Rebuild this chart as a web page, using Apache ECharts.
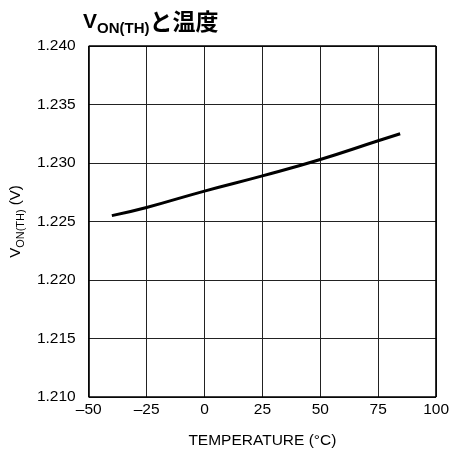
<!DOCTYPE html>
<html><head><meta charset="utf-8">
<script src="https://cdn.jsdelivr.net/npm/echarts@6/dist/echarts.min.js"></script>
<style>html,body{margin:0;padding:0;background:#fff}#c{width:452px;height:456px}</style>
</head><body><div id="c"></div>
<script>
var temps = [-40, -25, 0, 25, 50, 75, 84.5];
var vonth = [1.2255, 1.2262, 1.2276, 1.2289, 1.2303, 1.2319, 1.2325];
var xTicks = [-50, -25, 0, 25, 50, 75, 100];
var yTicks = [1.210, 1.215, 1.220, 1.225, 1.230, 1.235, 1.240];
var F = '"Liberation Sans", Arial, sans-serif';
var chart = echarts.init(document.getElementById('c'));
chart.setOption({
  animation: false,
  title: {
    text: '{v|V}{s|ON(TH)}{j|と温度}',
    left: 78, top: 0,
    textStyle: {
      rich: {
        v: {fontFamily: F, fontWeight: 'bold', fontSize: 21, color: '#000', lineHeight: 28, verticalAlign: 'bottom'},
        s: {fontFamily: F, fontWeight: 'bold', fontSize: 15, color: '#000', lineHeight: 28, verticalAlign: 'bottom', padding: [0,0,-3,0]},
        j: {fontFamily: '"Noto Sans CJK JP", sans-serif', fontWeight: 'bold', fontSize: 23, color: '#000', lineHeight: 28, verticalAlign: 'bottom'}
      }
    }
  },
  grid: {left: 86, right: 15, top: 46, bottom: 59, containLabel: false},
  xAxis: {
    type: 'value', min: -50, max: 100, interval: 25,
    name: 'TEMPERATURE (°C)', nameLocation: 'middle', nameGap: 36,
    nameTextStyle: {fontFamily: F, fontSize: 15.5, color: '#000'},
    axisLine: {show: false},
    axisTick: {show: false},
    axisLabel: {fontFamily: F, fontSize: 15.5, color: '#000', margin: 5,
      formatter: function(v){ return String(v).replace('-', '–'); }},
    splitLine: {show: true, lineStyle: {color: '#222', width: 1}}
  },
  yAxis: {
    type: 'value', min: 1.210, max: 1.240, interval: 0.005,
    name: '{v|V}{s|ON(TH)}{v| (V)}', nameLocation: 'middle', nameGap: 64,
    nameTextStyle: {
      rich: {
        v: {fontFamily: F, fontSize: 15, color: '#000', lineHeight: 18, verticalAlign: 'bottom'},
        s: {fontFamily: F, fontSize: 11, color: '#000', lineHeight: 18, verticalAlign: 'bottom', padding: [0,0,-3,0]}
      }
    },
    axisLine: {show: false},
    axisTick: {show: false},
    axisLabel: {fontFamily: F, fontSize: 15.5, color: '#000', margin: 13,
      formatter: function(v){ return v.toFixed(3); }},
    splitLine: {show: true, lineStyle: {color: '#222', width: 1}}
  },
  series: [{
    type: 'line', smooth: true, symbol: 'none',
    data: temps.map(function(t, i){ return [t, vonth[i]]; }),
    lineStyle: {color: '#000', width: 3}
  }, {
    type: 'line', silent: true, symbol: 'none', data: [],
    markLine: {silent: true, symbol: 'none', label: {show: false}, lineStyle: {color: '#000', width: 1.6, type: 'solid'},
      data: [
        [{coord: [-50, 1.210]}, {coord: [100, 1.210]}],
        [{coord: [-50, 1.240]}, {coord: [100, 1.240]}],
        [{coord: [-50, 1.210]}, {coord: [-50, 1.240]}],
        [{coord: [100, 1.210]}, {coord: [100, 1.240]}]
      ]}
  }]
});
</script></body></html>
